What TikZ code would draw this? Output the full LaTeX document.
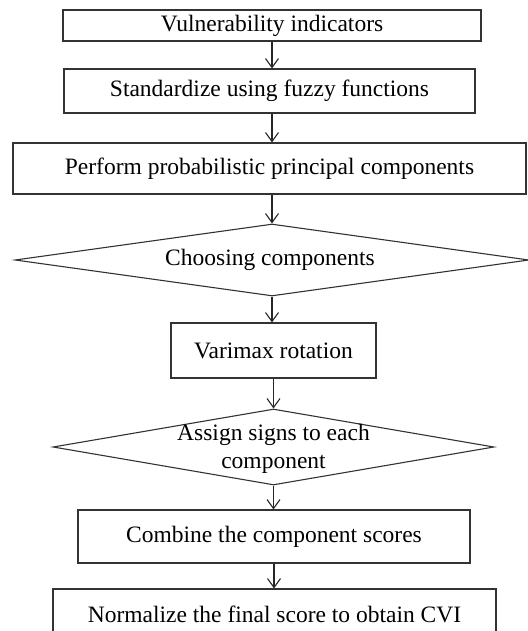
\documentclass[tikz,border=0pt]{standalone}
\usepackage{fontspec}
\setmainfont{Liberation Serif}
\usetikzlibrary{shapes.geometric,arrows.meta}
\tikzset{
  boxnode/.style={draw=black!80, line width=1.1pt, rectangle, inner sep=0pt, font=\fontsize{23.5}{27}\selectfont},
  decnode/.style={draw=black!80, line width=1.1pt, diamond, inner sep=0pt},
  txtnode/.style={inner sep=0pt, align=center, font=\fontsize{23.5}{28.5}\selectfont},
  flow/.style={draw=black!85, line width=1.1pt, -{Straight Barb[length=9pt,width=13pt,line width=1.1pt]}}
}
\begin{document}
\begin{tikzpicture}[x=1pt,y=-1pt]
\useasboundingbox (0,0) rectangle (527,631);
\node[boxnode, minimum width=418pt, minimum height=31pt] (b1) at (272,25.5) {Vulnerability indicators};
\node[boxnode, minimum width=411pt, minimum height=44pt] (b2) at (269.5,91) {Standardize using fuzzy functions};
\node[boxnode, minimum width=513pt, minimum height=51pt] (b3) at (269.5,168.5) {Perform probabilistic principal components};
\node[decnode, minimum width=514pt, minimum height=72pt] (d1) at (272,260) {};
\node[txtnode] (t1) at (270,260) {Choosing components};
\node[boxnode, minimum width=205pt, minimum height=55pt] (b4) at (273.5,350.5) {Varimax rotation};
\node[decnode, minimum width=441pt, minimum height=76pt] (d2) at (273.5,447) {};
\node[txtnode] (t2) at (273.5,449) {Assign signs to each\\component};
\node[boxnode, minimum width=392pt, minimum height=53pt] (b5) at (274,536.5) {Combine the component scores};
\node[boxnode, minimum width=443pt, minimum height=50pt] (b6) at (274.5,614) {Normalize the final score to obtain CVI};
\draw[flow] (b1.south) -- (b1.south |- b2.north);
\draw[flow] (b1.south |- b2.south) -- (b1.south |- b3.north);
\draw[flow] (b1.south |- b3.south) -- (d1.north);
\draw[flow] (d1.south) -- (d1.south |- b4.north);
\draw[flow] (b4.south) -- (b4.south |- d2.north);
\draw[flow] (d2.south) -- (d2.south |- b5.north);
\draw[flow] (b5.south) -- (b5.south |- b6.north);
\end{tikzpicture}
\end{document}
